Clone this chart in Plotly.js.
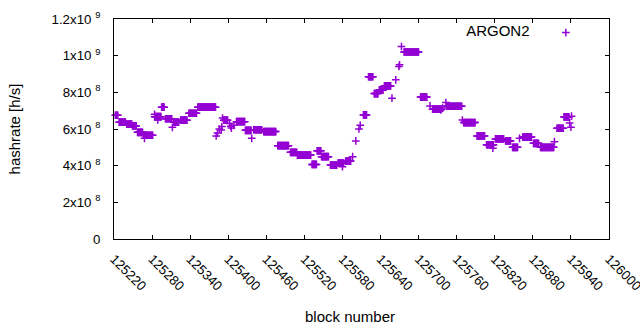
<!DOCTYPE html>
<html>
<head>
<meta charset="utf-8">
<script src="https://cdn.plot.ly/plotly-3.0.1.min.js"></script>
<style>html,body{margin:0;padding:0;background:#fff;}#chart{width:640px;height:330px;}</style>
</head>
<body>
<div id="chart"></div>
<script>
// Runs of consecutive blocks that share the same hashrate value (one point per block)
const runStart = [125222,125228,125240,125249,125257,125266,125284,125295,125301,125314,125325,125338,125352,
  125393,125413,125427,125440,125456,125478,125498,125509,125532,125540,125547,125561,125573,125585,
  125613,125621,125630,125638,125646,125677,125703,125722,125744,125771,125792,125807,125821,125837,
  125848,125864,125881,125892,125918,125929];
const runEnd = [125226,125238,125248,125255,125265,125281,125294,125299,125311,125322,125335,125350,125380,
  125399,125426,125436,125453,125475,125495,125508,125530,125539,125546,125558,125571,125582,125593,
  125618,125628,125636,125644,125656,125700,125713,125736,125768,125789,125804,125818,125834,125845,
  125856,125878,125889,125913,125928,125937];
const runValue = [6.75e8,6.37e8,6.27e8,6.17e8,5.82e8,5.66e8,6.67e8,7.19e8,6.56e8,6.37e8,6.48e8,6.86e8,7.19e8,
  6.48e8,6.40e8,5.93e8,5.96e8,5.86e8,5.09e8,4.73e8,4.58e8,4.07e8,4.81e8,4.49e8,4.03e8,4.14e8,4.25e8,
  6.77e8,8.85e8,7.93e8,8.13e8,8.35e8,1.02e9,7.74e8,7.08e8,7.24e8,6.35e8,5.62e8,5.14e8,5.46e8,5.35e8,
  5.00e8,5.56e8,5.22e8,5.00e8,6.04e8,6.66e8];
// Isolated blocks
const pointBlock = [125268,125284,125289,125312,125381,125383,125386,125389,125390,125391,125402,125404,125405,
  125409,125437,125580,125596,125601,125606,125608,125658,125664,125669,125670,125673,125718,125735,
  125738,125743,125769,125817,125859,125914,125938,125940,125941];
const pointValue = [5.49e8,6.80e8,6.49e8,6.09e8,5.62e8,5.78e8,6.00e8,5.95e8,6.13e8,6.60e8,6.30e8,6.15e8,6.05e8,
  6.20e8,5.49e8,3.94e8,4.49e8,5.35e8,6.00e8,6.20e8,7.68e8,8.68e8,9.41e8,9.50e8,1.05e9,7.26e8,7.04e8,
  7.14e8,7.44e8,6.49e8,4.95e8,5.49e8,5.31e8,6.33e8,6.10e8,6.70e8];

const xTickVals = [125220,125280,125340,125400,125460,125520,125580,125640,125700,125760,125820,125880,125940,126000];
const yTickVals = [0,2e8,4e8,6e8,8e8,1e9,1.2e9];
const yTickText = ["0","2x10\u00a0<sup>8</sup>","4x10\u00a0<sup>8</sup>","6x10\u00a0<sup>8</sup>","8x10\u00a0<sup>8</sup>","1x10\u00a0<sup>9</sup>","1.2x10\u00a0<sup>9</sup>"];

const xs = [], ys = [];
for (let i = 0; i < runStart.length; i++) {
  for (let b = runStart[i]; b <= runEnd[i]; b++) { xs.push(b); ys.push(runValue[i]); }
}
for (let i = 0; i < pointBlock.length; i++) { xs.push(pointBlock[i]); ys.push(pointValue[i]); }

const FONT = 'Liberation Sans, Arial, sans-serif';
const trace = {
  x: xs, y: ys, type: 'scatter', mode: 'markers', name: '',
  cliponaxis: false,
  marker: {symbol: 'cross-thin', size: 5.5, color: '#9400d3', line: {color: '#9400d3', width: 1.5}}
};
const axisCommon = {
  showline: true, linecolor: '#000', linewidth: 1, mirror: 'ticks',
  ticks: 'inside', ticklen: 4, tickcolor: '#000', tickwidth: 1,
  showgrid: false, zeroline: false,
  tickfont: {family: FONT, size: 13.3, color: '#000'}
};
const layout = {
  width: 640, height: 330,
  margin: {l: 114, r: 31, t: 19, b: 91},
  paper_bgcolor: '#fff', plot_bgcolor: '#fff',
  font: {family: FONT, color: '#000'},
  showlegend: true,
  legend: {
    x: 0.964, xanchor: 'right', y: 1.012, yanchor: 'top', bgcolor: 'rgba(0,0,0,0)', borderwidth: 0,
    title: {text: 'ARGON2\u00a0\u00a0', side: 'left', font: {family: FONT, size: 15, color: '#000'}},
    font: {family: FONT, size: 15, color: '#000'}
  },
  xaxis: Object.assign({}, axisCommon, {
    range: [125219.99, 126000.01], tickmode: 'array', tickvals: xTickVals,
    ticktext: xTickVals.map(String), tickangle: 45, ticklabelstandoff: 6,
    ticklabeloverflow: 'allow'
  }),
  yaxis: Object.assign({}, axisCommon, {
    range: [0, 1.2e9], tickmode: 'array', tickvals: yTickVals, ticktext: yTickText,
    ticklabelstandoff: 10,
    title: {text: 'hashrate [h/s]', font: {family: FONT, size: 15, color: '#000'}, standoff: 27}
  }),
  annotations: [{
    text: 'block number', xref: 'paper', yref: 'paper', x: 0.477, y: 0,
    xanchor: 'center', yanchor: 'middle', yshift: -77, showarrow: false,
    font: {family: FONT, size: 15, color: '#000'}
  }]
};
Plotly.newPlot('chart', [trace], layout, {staticPlot: true, displayModeBar: false});
</script>
</body>
</html>
